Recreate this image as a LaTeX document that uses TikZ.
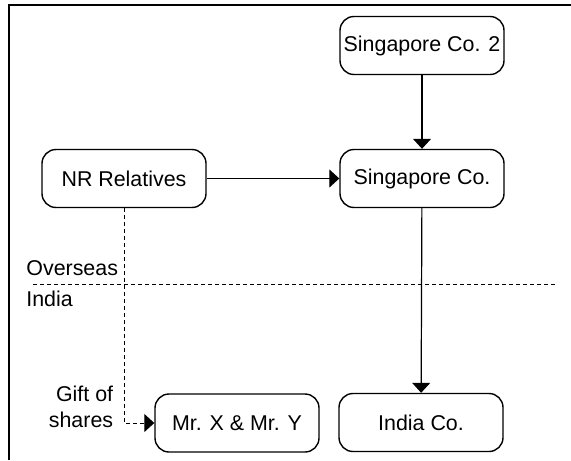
\documentclass[tikz,border=0pt]{standalone}
\usepackage{fontspec}
\setmainfont{Liberation Sans}
\usepackage{tikz}
\usetikzlibrary{shapes.geometric, arrows, arrows.meta, shapes, positioning, calc}
\tikzstyle{boite} = [rectangle, rounded corners = 7pt, minimum width = 82pt, minimum height = 29pt, text centered, draw = black, line width = 0.7pt, inner sep = 1pt]
\tikzstyle{fleche} = [line width = 0.6pt, -{Triangle[width = 9pt, length = 5pt]}]
\tikzstyle{pointille} = [line width = 0.5pt, dash pattern = on 2pt off 1.5pt]

\begin{document}
\begin{tikzpicture}[x = 0.5pt, y = -0.5pt, font = \fontsize{10.7}{13}\selectfont]
\useasboundingbox (0,0) rectangle (571,460);
% cadre
\draw[line width = 0.7pt] (9,460) |- (571,5);
\node (sing2) [boite] at (422,45.5) {Singapore Co. 2};
\node (sing) [boite] at (422,178.5) {Singapore Co.};
\node (nr) [boite] at (124,178.5) {NR Relatives};
\node (inde) [boite] at (421,422.5) {India Co.};
\node (mrxy) [boite] at (237,423) {Mr. X \& Mr. Y};
\node (over) [anchor = west, inner sep = 0pt] at (26,268) {Overseas};
\node (ind) [anchor = west, inner sep = 0pt] at (26,299) {India};
\node (gift) [align = right, inner sep = 0pt] at (81,407) {Gift of\\shares};
\coordinate (fg) at (33,284);
\coordinate (fd) at (557,284);
\draw[pointille] (fg) -- (fd);
\draw[fleche] (sing2) -- (sing);
\draw[fleche] (nr) -- (sing);
\draw[fleche] (sing) -- (inde);
\draw[pointille, -{Triangle[width = 9pt, length = 5pt]}] (nr) |- (mrxy);
\end{tikzpicture}
\end{document}
